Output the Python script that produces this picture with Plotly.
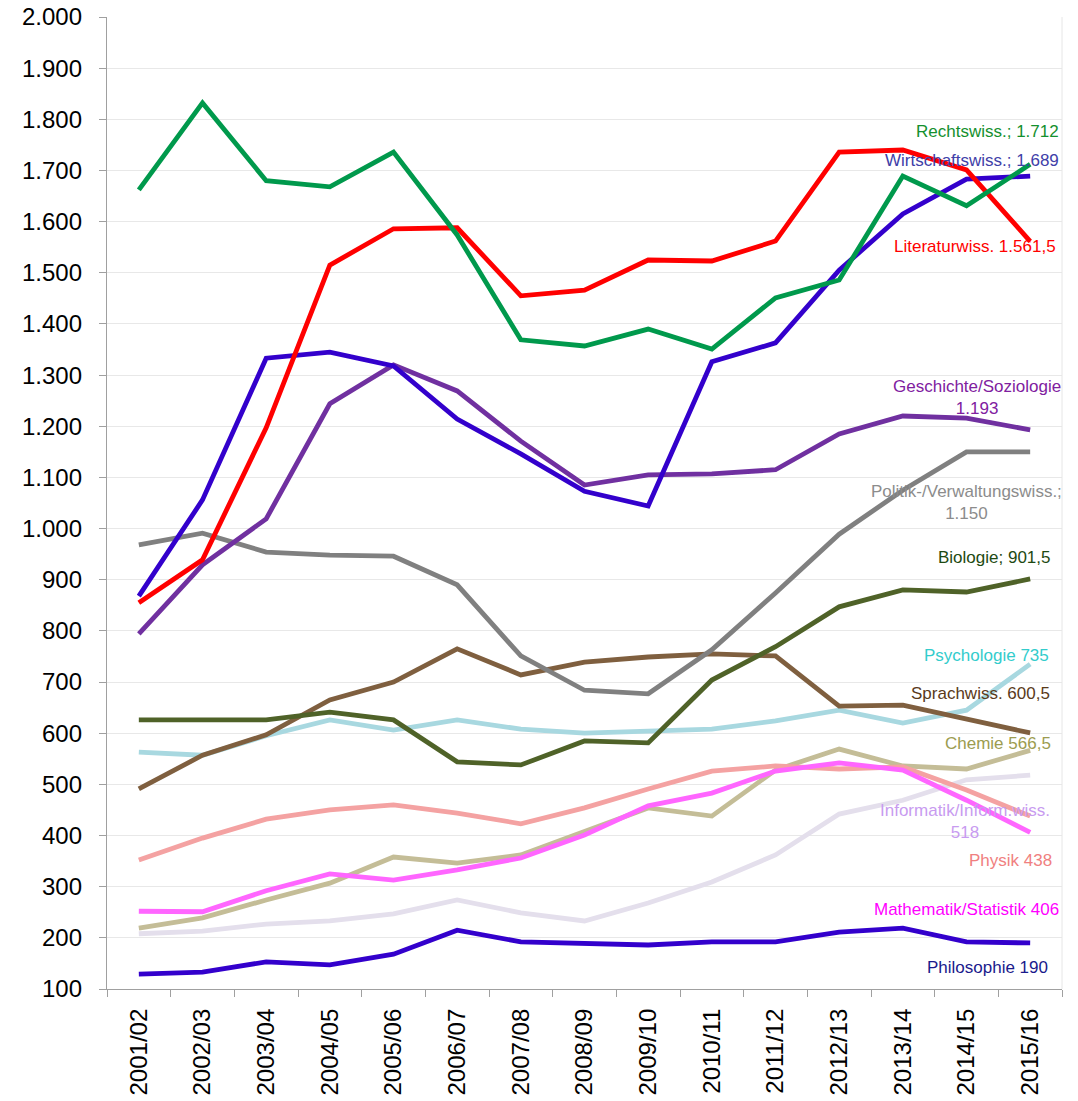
import plotly.graph_objects as go

years = ["2001/02", "2002/03", "2003/04", "2004/05", "2005/06", "2006/07", "2007/08",
         "2008/09", "2009/10", "2010/11", "2011/12", "2012/13", "2013/14", "2014/15", "2015/16"]

informatik = [208, 213, 227, 233, 247, 274, 249, 233, 268, 309, 362, 442, 469, 509, 518]
psychologie = [563, 557, 595, 626, 606, 626, 608, 600, 604, 608, 624, 645, 620, 645, 735]
chemie = [219, 239, 274, 307, 358, 346, 362, 407, 454, 438, 528, 569, 536, 530, 566.5]
physik = [352, 395, 432, 450, 460, 444, 423, 454, 491, 526, 536, 530, 534, 489, 438]
mathematik = [252, 251, 292, 325, 313, 333, 356, 401, 458, 483, 526, 542, 528, 469, 406]
philosophie = [129, 133, 153, 147, 168, 215, 192, 188, 186, 192, 192, 211, 219, 192, 190]
sprachwiss = [491, 557, 597, 665, 700, 765, 714, 739, 749, 755, 751, 653, 655, 628, 600.5]
biologie = [626, 626, 626, 641, 626, 544, 538, 585, 581, 704, 769, 847, 880, 876, 901.5]
politik = [968, 991, 954, 948, 946, 890, 751, 684, 677, 763, 874, 989, 1075, 1150, 1150]
geschichte = [794, 929, 1019, 1244, 1320, 1269, 1171, 1085, 1105, 1107, 1115, 1185, 1220, 1216, 1193]
wirtschaft = [868, 1056, 1333, 1345, 1318, 1214, 1146, 1073, 1044, 1326, 1363, 1505, 1615, 1683, 1689]
literatur = [855, 939, 1197, 1515, 1586, 1588, 1455, 1466, 1525, 1523, 1562, 1736, 1740, 1701, 1561.5]
rechtswiss = [1662, 1832, 1680, 1668, 1736, 1574, 1369, 1357, 1390, 1351, 1451, 1486, 1689, 1631, 1712]

series = [
    ("Informatik/Inform.wiss.", informatik, "#E4DFEC"),
    ("Psychologie", psychologie, "#A8D8E0"),
    ("Chemie", chemie, "#C4BD97"),
    ("Physik", physik, "#F4A2A2"),
    ("Mathematik/Statistik", mathematik, "#FF66FF"),
    ("Philosophie", philosophie, "#3300CC"),
    ("Sprachwiss.", sprachwiss, "#7F5F3F"),
    ("Biologie", biologie, "#4F6228"),
    ("Politik-/Verwaltungswiss.", politik, "#808080"),
    ("Geschichte/Soziologie", geschichte, "#7030A0"),
    ("Wirtschaftswiss.", wirtschaft, "#3300CC"),
    ("Literaturwiss.", literatur, "#FF0000"),
    ("Rechtswiss.", rechtswiss, "#00994C"),
]

# label text, colour, x (paper), y (paper), anchor
labels = [
    ("Rechtswiss.; 1.712", "#14902E", 0.999, 0.8817, "right"),
    ("Wirtschaftswiss.; 1.689", "#4040A8", 0.999, 0.8519, "right"),
    ("Literaturwiss. 1.561,5", "#FF0000", 0.9958, 0.7634, "right"),
    ("Geschichte/Soziologie<br>1.193", "#80209F", 0.911, 0.6086, "center"),
    ("Politik-/Verwaltungswiss.;<br>1.150", "#8C8C8C", 0.8995, 0.501, "center"),
    ("Biologie; 901,5", "#1E4A12", 0.9895, 0.4444, "right"),
    ("Psychologie 735", "#33CCCC", 0.9885, 0.3436, "right"),
    ("Sprachwiss. 600,5", "#5A3A1A", 0.9895, 0.3045, "right"),
    ("Chemie 566,5", "#9C9C50", 0.9906, 0.2521, "right"),
    ("Informatik/Inform.wiss.<br>518", "#C89BF0", 0.8984, 0.1723, "center"),
    ("Physik 438", "#F08080", 0.9916, 0.1327, "right"),
    ("Mathematik/Statistik 406", "#FF00FF", 0.999, 0.0823, "right"),
    ("Philosophie 190", "#1A1A8C", 0.9874, 0.0226, "right"),
]

fig = go.Figure()
for name, vals, col in series:
    fig.add_trace(go.Scatter(x=years, y=vals, mode="lines", name=name,
                             line=dict(color=col, width=4.8), showlegend=False))

for text, col, x, y, anc in labels:
    fig.add_annotation(text=text, x=x, y=y, xref="paper", yref="paper",
                       xanchor=anc, yanchor="middle", align=anc,
                       showarrow=False, font=dict(color=col, size=17, family="Liberation Sans"))

fig.add_shape(type="line", xref="paper", yref="paper", x0=1, x1=1, y0=0, y1=1,
              line=dict(color="#E6E6E6", width=1))

fig.update_layout(
    width=1078, height=1101,
    margin=dict(l=107, r=16, t=17, b=112),
    paper_bgcolor="white", plot_bgcolor="white",
    separators=",.",
    font=dict(family="Liberation Sans", color="black"),
    xaxis=dict(type="category", range=[-0.5, len(years) - 0.5], automargin=False,
               showline=True, linecolor="#A0A0A0", linewidth=1.3,
               ticks="outside", tickson="boundaries", ticklen=7, tickcolor="#A0A0A0",
               tickangle=-90, tickfont=dict(size=24, color="black"),
               showgrid=False, ticklabelstandoff=9),
    yaxis=dict(range=[100, 2000], dtick=100, tick0=100, tickformat=",d", automargin=False,
               showline=True, linecolor="#A0A0A0", linewidth=1.3,
               ticks="outside", ticklen=7, tickcolor="#A0A0A0",
               tickfont=dict(size=24, color="black"),
               showgrid=True, gridcolor="#E8E8E8", gridwidth=1,
               zeroline=False, ticklabelstandoff=12),
)

fig.write_html("out.html", config={"displayModeBar": False},
               post_script="document.body.style.margin='0';document.body.style.overflow='hidden';")
